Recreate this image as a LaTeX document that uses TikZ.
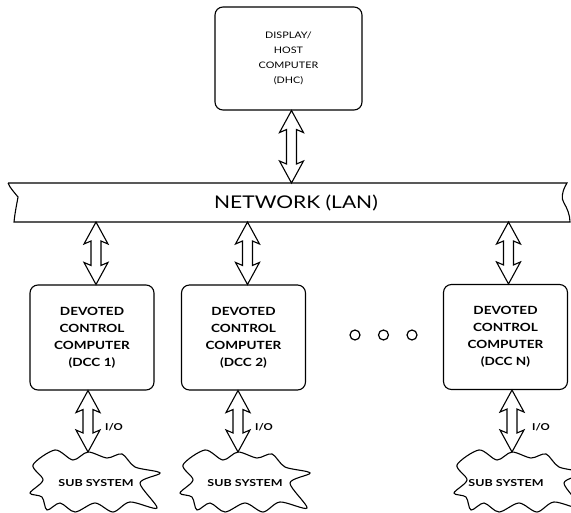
\documentclass[tikz,border=0pt]{standalone}
\usepackage{fontspec}
\setmainfont{Lato}
\newfontfamily\widefont[FakeStretch=1.2]{Lato}
\newfontfamily\widerfont[FakeStretch=1.3]{Lato}
\usetikzlibrary{calc}
\newcommand\dblarrow[2]{%
  \draw[arrowline] let \p1=(#1), \p2=(#2) in
    (\x1,\y1) -- (\x1+12pt,\y1-22pt) -- (\x1+5pt,\y1-19pt) -- (\x1+5pt,\y2+19pt)
    -- (\x1+12pt,\y2+22pt) -- (\x1,\y2) -- (\x1-12pt,\y2+22pt) -- (\x1-5pt,\y2+19pt)
    -- (\x1-5pt,\y1-19pt) -- (\x1-12pt,\y1-22pt) -- cycle;}
\begin{document}
\begin{tikzpicture}[x=1pt,y=-1pt,line width=1.1pt,
  box/.style={draw,rounded corners=8pt,align=center},
  dccbox/.style={box,minimum width=124pt,minimum height=105pt,
     font=\widefont\bfseries\fontsize{11.3}{17}\selectfont},
  arrowline/.style={draw,line width=1.1pt,fill=white,line join=miter},
  iolabel/.style={font=\widefont\bfseries\fontsize{9.5}{10}\selectfont},
  subtext/.style={font=\widerfont\bfseries\fontsize{9.6}{10}\selectfont},
  dotc/.style={draw,circle,minimum size=10pt,inner sep=0pt,line width=1.2pt},
  pics/cloud/.style={code={
    \draw[line width=1.1pt] plot[smooth cycle,tension=0.5] coordinates {
      (-62,13) (-49,0) (-59,-15) (-37,-30) (-19,-20) (-4,-28) (15,-22)
      (30,-26) (43,-13) (68,-7) (48,3) (65,28) (38,22) (21,32) (3,23)
      (-17,32) (-32,23) (-45,30) (-50,17)};
    \coordinate (-top) at (-4,-28);}}]
\useasboundingbox (0,0) rectangle (571,513);

% host
\node[box,minimum width=147pt,minimum height=103pt,
      font=\widefont\fontsize{9}{15}\selectfont] (dhc) at (288.5,58.5)
      {DISPLAY/\\HOST\\COMPUTER\\(DHC)};

% network band
\draw (8,183) -- (567,183) .. controls (562,191) and (561,199) .. (564,203)
      .. controls (567,208) and (570,215) .. (570,222) -- (14,222)
      .. controls (15,212) and (17,203) .. (18,197)
      .. controls (14,192) and (10,188) .. (8,183);
\coordinate (nettop) at (290,183);
\coordinate (netbot) at (290,222);
\node[font=\widefont\fontsize{17.5}{18}\selectfont] (net) at (296,203) {NETWORK (LAN)};

% control computers
\node[dccbox] (dcc1) at (92,337.5) {DEVOTED\\CONTROL\\COMPUTER\\(DCC 1)};
\node[dccbox] (dcc2) at (243.5,337.5) {DEVOTED\\CONTROL\\COMPUTER\\(DCC 2)};
\node[dccbox] (dccn) at (505.5,337) {DEVOTED\\CONTROL\\COMPUTER\\(DCC N)};

% dots
\node[dotc] (d1) at (355,335) {};
\node[dotc] (d2) at (383.5,335) {};
\node[dotc] (d3) at (412,335) {};

% sub systems
\pic (ss1) at (92,480) {cloud};
\pic (ss2) at (242,480) {cloud};
\pic (ssn) at (516,480) {cloud};
\node[subtext] (sst1) at (96,483) {SUB SYSTEM};
\node[subtext] (sst2) at (245,483) {SUB SYSTEM};
\node[subtext] (sstn) at (506,483) {SUB SYSTEM};

% arrows
\dblarrow{[xshift=3pt]dhc.south}{[xshift=3pt]dhc.south |- nettop}
\dblarrow{[xshift=4pt]dcc1.north |- netbot}{[xshift=4pt]dcc1.north}
\dblarrow{[xshift=4pt]dcc2.north |- netbot}{[xshift=4pt]dcc2.north}
\dblarrow{[xshift=3pt]dccn.north |- netbot}{[xshift=3pt]dccn.north}
\dblarrow{ss1-top |- dcc1.south}{ss1-top}
\dblarrow{ss2-top |- dcc2.south}{ss2-top}
\dblarrow{ssn-top |- dccn.south}{ssn-top}

\node[iolabel] (io1) at (114,427) {I/O};
\node[iolabel] (io2) at (264,427) {I/O};
\node[iolabel] (ion) at (541,427) {I/O};
\end{tikzpicture}
\end{document}
